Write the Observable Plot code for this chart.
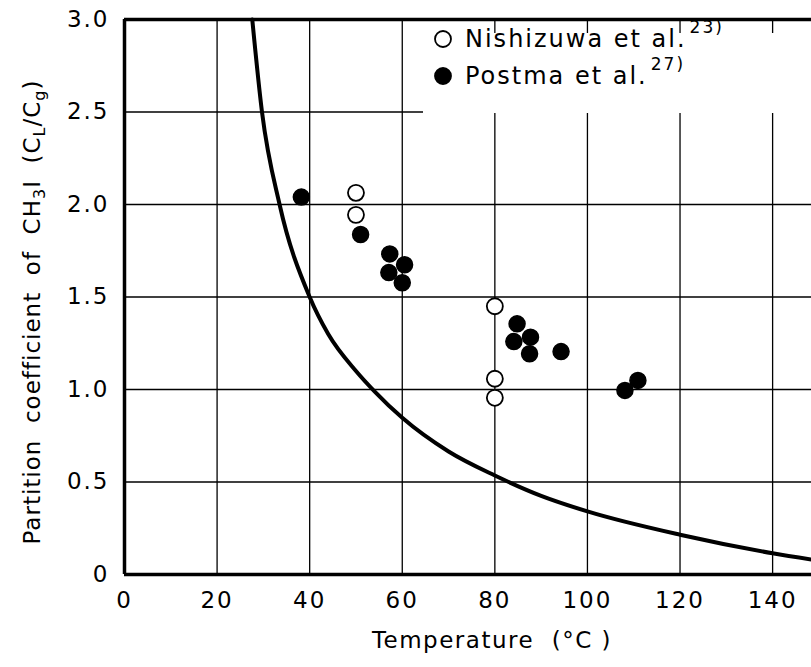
<!DOCTYPE html>
<html><head><meta charset="utf-8">
<script src="https://cdn.jsdelivr.net/npm/d3@7"></script>
<script src="https://cdn.jsdelivr.net/npm/@observablehq/plot@0.6"></script>
<style>body{margin:0;background:#fff} #chart svg{display:block} text{white-space:pre}</style>
</head><body><div id="chart"></div>
<script>
const xTicks = [0, 20, 40, 60, 80, 100, 120, 140];
const yTicks = [0, 0.5, 1.0, 1.5, 2.0, 2.5, 3.0];
const nishTemp = [50, 50, 80, 80, 80];
const nishCoef = [2.063, 1.944, 1.450, 1.058, 0.955];
const postTemp = [38.2, 51.0, 57.3, 60.5, 57.1, 60.0, 84.8, 87.7, 84.1, 87.5, 94.3, 110.9, 108.1];
const postCoef = [2.04, 1.838, 1.733, 1.674, 1.632, 1.577, 1.355, 1.283, 1.259, 1.193, 1.205, 1.049, 0.995];
const curveTemp = [27.6, 29.7, 33.5, 40.0, 44.0, 50.0, 54.0, 60, 70, 80, 90, 100, 120, 140, 148.4];
const curveCoef = [3.0, 2.5, 2.0, 1.5, 1.30, 1.10, 0.99, 0.847, 0.665, 0.535, 0.425, 0.341, 0.215, 0.115, 0.081];
const legendLabels = ["Nishizuwa et al.", "Postma et al."];
const legendRefs = ["23)", "27)"];
const xLabel = "Temperature  (°C )";

const nish = nishTemp.map((t, i) => ({t, c: nishCoef[i]}));
const post = postTemp.map((t, i) => ({t, c: postCoef[i]}));
const curve = curveTemp.map((t, i) => ({t, c: curveCoef[i]}));

const FONT = "DejaVu Sans";
const chart = Plot.plot({
  width: 811, height: 667,
  marginLeft: 124, marginRight: 0, marginTop: 19, marginBottom: 93,
  style: {fontFamily: FONT, fontSize: "23px", color: "#000", background: "#fff"},
  x: {domain: [0, 148.4]},
  y: {domain: [0, 3]},
  marks: [
    Plot.gridX(xTicks, {stroke: "#000", strokeOpacity: 1, strokeWidth: 1.3}),
    Plot.gridY(yTicks, {stroke: "#000", strokeOpacity: 1, strokeWidth: 1.3}),
    Plot.ruleX([0], {stroke: "#000", strokeWidth: 3.5}),
    Plot.ruleY([0, 3], {stroke: "#000", strokeWidth: 3.5}),
    Plot.axisX(xTicks, {tickSize: 0, tickPadding: 17, fontSize: 23, label: null}),
    Plot.axisY(yTicks, {tickSize: 0, tickPadding: 15, fontSize: 23, label: null,
      tickFormat: d => d === 0 ? "0" : d.toFixed(1)}),
    Plot.line(curve, {x: "t", y: "c", curve: "monotone-x", stroke: "#000", strokeWidth: 4}),
    Plot.dot(nish, {x: "t", y: "c", r: 8, fill: "#fff", stroke: "#000", strokeWidth: 1.8}),
    Plot.dot(post, {x: "t", y: "c", r: 8, fill: "#000", stroke: "#000"})
  ]
});
document.getElementById("chart").appendChild(chart);

const svg = d3.select(chart);
svg.selectAll("g[aria-label='x-axis tick label'] text, g[aria-label='y-axis tick label'] text")
  .attr("letter-spacing", 2);
// y-axis title
const yl = svg.append("text")
  .attr("transform", "translate(40,312) rotate(-90)")
  .attr("text-anchor", "middle").attr("font-family", FONT).attr("font-size", 23)
  .attr("letter-spacing", 1).attr("fill", "#000");
yl.append("tspan").text("Partition  coefficient  of  CH");
yl.append("tspan").attr("font-size", 16).attr("dy", 5).text("3");
yl.append("tspan").attr("dy", -5).text("I  (C");
yl.append("tspan").attr("font-size", 16).attr("dy", 5).text("L");
yl.append("tspan").attr("dy", -5).text("/C");
yl.append("tspan").attr("font-size", 16).attr("dy", 5).text("g");
yl.append("tspan").attr("dy", -5).text(")");
// x-axis title
svg.append("text").attr("x", 492).attr("y", 648).attr("text-anchor", "middle")
  .attr("font-family", FONT).attr("font-size", 23).attr("letter-spacing", 1.5)
  .attr("fill", "#000").text(xLabel);
// legend
const lg = svg.append("g");
lg.append("rect").attr("x", 423).attr("y", 33).attr("width", 400).attr("height", 80).attr("fill", "#fff");
legendLabels.forEach((lab, i) => {
  const cy = 39 + i * 37;
  lg.append("circle").attr("cx", 443).attr("cy", cy).attr("r", 8)
    .attr("fill", i === 0 ? "#fff" : "#000").attr("stroke", "#000").attr("stroke-width", 1.8);
  const t = lg.append("text").attr("x", 465).attr("y", cy + 8).attr("text-anchor", "start")
    .attr("font-family", FONT).attr("font-size", 24).attr("letter-spacing", 2).attr("fill", "#000");
  t.append("tspan").text(lab);
  t.append("tspan").attr("dy", -14).attr("font-size", 17).attr("dx", 3).text(legendRefs[i]);
});
</script>
</body></html>
